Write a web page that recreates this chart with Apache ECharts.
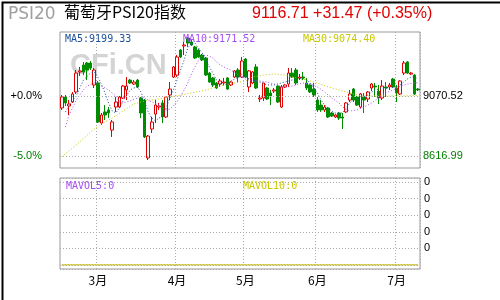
<!DOCTYPE html>
<html lang="zh-CN">
<head>
    <title>葡萄牙PSI20指数</title>
    <meta charset="utf-8">
    <style>
        html, body {margin: 0; padding: 0; background: #fff;}
        #container {width: 500px; height: 300px;}
    </style>
</head>
<body>
<div id="container"></div>

<script type="text/javascript" src="https://cdn.jsdelivr.net/npm/echarts/dist/echarts.min.js"></script>
<script>
// 日K线 [开, 收, 低, 高]
var kdata = [
    [8980, 9063, 8965, 9078], [9063, 9018, 8995, 9078], [8995, 9010, 8927, 9040], [9025, 9086, 9018, 9101],
    [9101, 9244, 9086, 9267], [9252, 9260, 9222, 9290], [9305, 9252, 9229, 9328], [9320, 9267, 9191, 9328],
    [9320, 9282, 9267, 9335], [9154, 9267, 9131, 9282], [9169, 8874, 8866, 9184], [8866, 8927, 8851, 8942],
    [8950, 8927, 8889, 9002], [8965, 8942, 8904, 8987], [8813, 8874, 8761, 8889], [8987, 9025, 8950, 9063],
    [8987, 9063, 8980, 9071], [9055, 9146, 9048, 9154], [9116, 9146, 9040, 9214], [9191, 9169, 9161, 9199],
    [9161, 9176, 9154, 9191], [9191, 9139, 9131, 9199], [9055, 8942, 8904, 9063], [9040, 8761, 8753, 9048],
    [8602, 8768, 8587, 8776], [8821, 8874, 8791, 8912], [8934, 9002, 8866, 9040], [8987, 8995, 8965, 9018],
    [9018, 8912, 8866, 9040], [8912, 9063, 8904, 9071], [9078, 9123, 9040, 9176], [9214, 9290, 9207, 9297],
    [9229, 9365, 9214, 9380], [9418, 9365, 9358, 9426], [9449, 9456, 9380, 9479], [9509, 9471, 9441, 9516],
    [9479, 9456, 9449, 9494], [9441, 9358, 9350, 9449], [9418, 9365, 9358, 9426], [9380, 9343, 9335, 9388],
    [9358, 9229, 9222, 9365], [9244, 9176, 9169, 9252], [9207, 9154, 9139, 9214], [9169, 9131, 9123, 9176],
    [9161, 9184, 9139, 9199], [9169, 9176, 9154, 9207], [9207, 9123, 9116, 9214], [9154, 9176, 9146, 9184],
    [9214, 9260, 9207, 9267], [9267, 9214, 9176, 9282], [9214, 9335, 9207, 9365], [9350, 9214, 9207, 9358],
    [9139, 9260, 9101, 9267], [9169, 9252, 9161, 9260], [9290, 9131, 9123, 9312], [9048, 9055, 9025, 9078],
    [9055, 9169, 9033, 9169], [9131, 9048, 9040, 9139], [9093, 9071, 9002, 9116], [9108, 9116, 9093, 9131],
    [9146, 9025, 9018, 9154], [8987, 9139, 8980, 9154], [9139, 9154, 9131, 9161], [9161, 9244, 9139, 9282],
    [9244, 9214, 9207, 9282], [9267, 9169, 9154, 9282], [9207, 9214, 9191, 9237], [9214, 9207, 9191, 9252],
    [9169, 9131, 9116, 9207], [9154, 9101, 9093, 9161], [9123, 9078, 9063, 9169], [9040, 8965, 8950, 9063],
    [9002, 8965, 8950, 9040], [8965, 8987, 8950, 9002], [8980, 8912, 8904, 8987], [8942, 8919, 8912, 8950],
    [8912, 8927, 8904, 8934], [8942, 8904, 8889, 8950], [8912, 8904, 8821, 8942], [8950, 9018, 8942, 9025],
    [9040, 9086, 9025, 9116], [9123, 9040, 9025, 9131], [9063, 9002, 8995, 9071], [8987, 9086, 8980, 9093],
    [9063, 9040, 8942, 9093], [9048, 9101, 9025, 9108], [9131, 9161, 9108, 9169], [9146, 9139, 9063, 9169],
    [9108, 9055, 9010, 9154], [9055, 9146, 9040, 9191], [9139, 9131, 9063, 9176], [9139, 9154, 9116, 9169],
    [9199, 9139, 9131, 9207], [9131, 9093, 9025, 9154], [9086, 9184, 9078, 9191], [9244, 9320, 9229, 9335],
    [9328, 9244, 9237, 9335], [9237, 9244, 9229, 9252], [9229, 9085.24, 9078, 9237], [9123, 9116.71, 9108, 9131]
];

// 均线 [序号, 值]
var ma5 = [
    [1, 8950], [2, 8995], [4, 9071], [5, 9131], [6, 9191], [8, 9244], [9, 9252], [10, 9214], [11, 9161],
    [12, 9093], [13, 9018], [14, 8957], [15, 8942], [16, 8980], [17, 9033], [19, 9116], [20, 9131], [21, 9139],
    [22, 9101], [23, 9033], [24, 8950], [25, 8904], [26, 8881], [27, 8904], [28, 8912], [29, 8980], [30, 9055],
    [31, 9116], [32, 9191], [33, 9267], [34, 9343], [35, 9433], [36, 9471], [37, 9471], [38, 9433], [39, 9396],
    [40, 9343], [41, 9290], [42, 9244], [43, 9191], [44, 9161], [45, 9154], [46, 9161], [47, 9184], [48, 9199],
    [49, 9214], [50, 9237], [51, 9222], [52, 9199], [53, 9191], [55, 9176], [57, 9154], [59, 9154], [61, 9169],
    [63, 9184], [65, 9199], [67, 9207], [68, 9191], [69, 9169], [70, 9131], [71, 9093], [72, 9040], [73, 9002],
    [74, 8980], [75, 8957], [76, 8942], [78, 8942], [79, 8980], [80, 9018], [81, 9040], [82, 9048], [83, 9055],
    [85, 9078], [87, 9116], [89, 9131], [91, 9131], [93, 9139], [94, 9154], [95, 9176], [96, 9199], [97, 9214],
    [98, 9214], [99, 9199.33]
];
var ma10 = [
    [1, 8836], [2, 8927], [3, 8980], [4, 9040], [6, 9116], [7, 9146], [9, 9169], [10, 9169], [11, 9146],
    [13, 9116], [15, 9071], [16, 9025], [17, 9018], [19, 9033], [21, 9055], [23, 9055], [25, 9025], [27, 9002],
    [28, 8980], [29, 8965], [30, 8972], [31, 8995], [32, 9025], [33, 9071], [34, 9116], [35, 9169], [36, 9237],
    [37, 9290], [38, 9343], [39, 9373], [40, 9380], [41, 9373], [42, 9358], [43, 9328], [44, 9305], [45, 9290],
    [47, 9267], [49, 9229], [51, 9199], [53, 9184], [55, 9184], [57, 9176], [59, 9161], [61, 9139], [63, 9139],
    [65, 9154], [67, 9169], [69, 9161], [71, 9139], [73, 9101], [75, 9055], [77, 9018], [78, 8987], [80, 8957],
    [82, 8965], [84, 8987], [86, 9018], [88, 9055], [90, 9093], [92, 9116], [94, 9146], [96, 9161], [99, 9171.52]
];
var ma30 = [
    [0, 8612], [4, 8700], [8, 8798], [11, 8859], [14, 8904], [17, 8957], [20, 9010], [23, 9033], [27, 9048],
    [30, 9063], [33, 9078], [36, 9093], [40, 9116], [44, 9146], [48, 9169], [51, 9184], [53, 9214], [56, 9229],
    [59, 9237], [62, 9229], [65, 9207], [68, 9191], [71, 9169], [74, 9139], [77, 9116], [80, 9093], [83, 9071],
    [86, 9071], [90, 9071], [95, 9071], [99, 9074.40]
];
var maLast = [9199.33, 9171.52, 9074.40];

// 成交量均线（全为0）
var mavol5 = [[0, 0], [99, 0]];
var mavol10 = [[0, 0], [99, 0]];

var baseClose = 9070.52;   // 0% 基准线
var lowLine = 8616.99;     // -5% 线
var yMin = 8526.3, yMax = 9554.3;
var quote = '9116.71 +31.47 (+0.35%)';

var monthLabels = ['3月', '4月', '5月', '6月', '7月'];
var monthStart = [10, 32, 51, 71, 93];

var cats = kdata.map(function (d, i) { return i; });
function isMonthStart(i) { return monthStart.indexOf(i) >= 0; }
function pct(v) {
    var p = (v / baseClose - 1) * 100;
    return (p >= 0 ? '+' : '') + p.toFixed(1) + '%';
}

var RED = '#e00000', GREEN = '#008c00';
var C_MA5 = '#1a4f9c', C_MA10 = '#a64ff0', C_MA30 = '#c8c800';
var mono = 'DejaVu Sans Mono';
var dotGrid = {color: '#aaa', type: [1, 2], width: 1};

function maLine(name, data, color, x, y) {
    return {name: name, type: 'line', xAxisIndex: x, yAxisIndex: y, data: data,
        showSymbol: false, silent: true, lineStyle: {color: color, width: 1, type: [1, 2]}};
}
function tag(text, left, top, color, size, family) {
    return {text: text, left: left, top: top, padding: 0,
        textStyle: {color: color, fontSize: size, fontFamily: family, fontWeight: 'normal'}};
}

var myChart = echarts.init(document.getElementById('container'));
var options = {
    animation: false,
    backgroundColor: '#fff',
    title: [
        tag('PSI20', 8, 6, '#a0a0a0', 17, 'DejaVu Sans'),
        tag('葡萄牙PSI20指数', 64, 4, '#000', 16, 'Noto Sans CJK SC'),
        tag(quote, 252, 6, RED, 16, 'Liberation Sans'),
        tag('MA5:' + maLast[0].toFixed(2), 65, 34, C_MA5, 10, mono),
        tag('MA10:' + maLast[1].toFixed(2), 183, 34, C_MA10, 10, mono),
        tag('MA30:' + maLast[2].toFixed(2), 303, 34, C_MA30, 10, mono),
        tag('MAVOL5:0', 66, 181, C_MA10, 10, mono),
        tag('MAVOL10:0', 243, 181, C_MA30, 10, mono),
        {text: 'CFi.CN', left: 70, top: 51, padding: 0, z: 0,
            textStyle: {color: '#d4d4d4', fontSize: 29, fontWeight: 'bold', fontFamily: 'Liberation Sans'}}
    ],
    grid: [
        {left: 60, top: 32, width: 360, height: 136, show: true, borderColor: '#999', borderWidth: 1},
        {left: 60, top: 178, width: 360, height: 91, show: true, borderColor: '#999', borderWidth: 1}
    ],
    xAxis: [
        {gridIndex: 0, type: 'category', data: cats, boundaryGap: true,
            axisLine: {show: false}, axisTick: {show: false}, axisLabel: {show: false},
            splitLine: {show: true, interval: function (i) { return isMonthStart(i); }, lineStyle: dotGrid}},
        {gridIndex: 1, type: 'category', data: cats, boundaryGap: true,
            axisLine: {show: false}, axisTick: {show: false},
            axisLabel: {interval: function (i) { return isMonthStart(i); }, margin: 5,
                color: '#000', fontSize: 12, fontFamily: 'Noto Sans CJK SC',
                formatter: function (v, i) { var k = monthStart.indexOf(i); return k >= 0 ? monthLabels[k] : ''; }},
            splitLine: {show: true, interval: function (i) { return isMonthStart(i); }, lineStyle: dotGrid}}
    ],
    yAxis: [
        {gridIndex: 0, type: 'value', min: yMin, max: yMax,
            axisLine: {show: false}, axisTick: {show: false}, axisLabel: {show: false}, splitLine: {show: false}},
        {gridIndex: 1, type: 'value', position: 'right', min: -0.25, max: 5.25,
            axisLine: {show: false}, axisTick: {show: false},
            axisLabel: {margin: 4, color: '#000', fontSize: 11, fontFamily: 'Liberation Sans',
                formatter: function (v) { return (v >= 1 && v <= 5 && v === Math.round(v)) ? '0' : ''; }},
            splitLine: {show: true, lineStyle: dotGrid}}
    ],
    graphic: [
        {type: 'rect', left: 0, top: 0, z: 100, silent: true,
            shape: {x: 0, y: 0, width: 500, height: 299},
            style: {fill: 'none', stroke: '#000', lineWidth: 2}}
    ],
    series: [
        {name: 'K', type: 'candlestick', xAxisIndex: 0, yAxisIndex: 0, data: kdata, barWidth: 3,
            itemStyle: {color: '#fff', color0: GREEN, borderColor: RED, borderColor0: GREEN, borderWidth: 1},
            markLine: {silent: true, symbol: 'none', animation: false,
                lineStyle: dotGrid,
                data: [
                    {yAxis: baseClose, label: {position: 'start', formatter: pct(baseClose), color: '#000',
                        fontSize: 11, fontFamily: 'Liberation Sans', distance: 18}},
                    {yAxis: baseClose, label: {position: 'end', formatter: baseClose.toFixed(2), color: '#000',
                        fontSize: 11, fontFamily: 'Liberation Sans', distance: 3}},
                    {yAxis: lowLine, label: {position: 'start', formatter: pct(lowLine), color: '#008000',
                        fontSize: 11, fontFamily: 'Liberation Sans', distance: 18}},
                    {yAxis: lowLine, label: {position: 'end', formatter: lowLine.toFixed(2), color: '#008000',
                        fontSize: 11, fontFamily: 'Liberation Sans', distance: 3}}
                ]}},
        maLine('MA30', ma30, C_MA30, 0, 0),
        maLine('MA10', ma10, C_MA10, 0, 0),
        maLine('MA5', ma5, C_MA5, 0, 0),
        maLine('MAVOL5', mavol5, C_MA10, 1, 1),
        {name: 'MAVOL10', type: 'line', xAxisIndex: 1, yAxisIndex: 1, data: mavol10,
            showSymbol: false, silent: true, lineStyle: {color: C_MA30, width: 1}}
    ]
};
myChart.setOption(options);
</script>
</body>
</html>
